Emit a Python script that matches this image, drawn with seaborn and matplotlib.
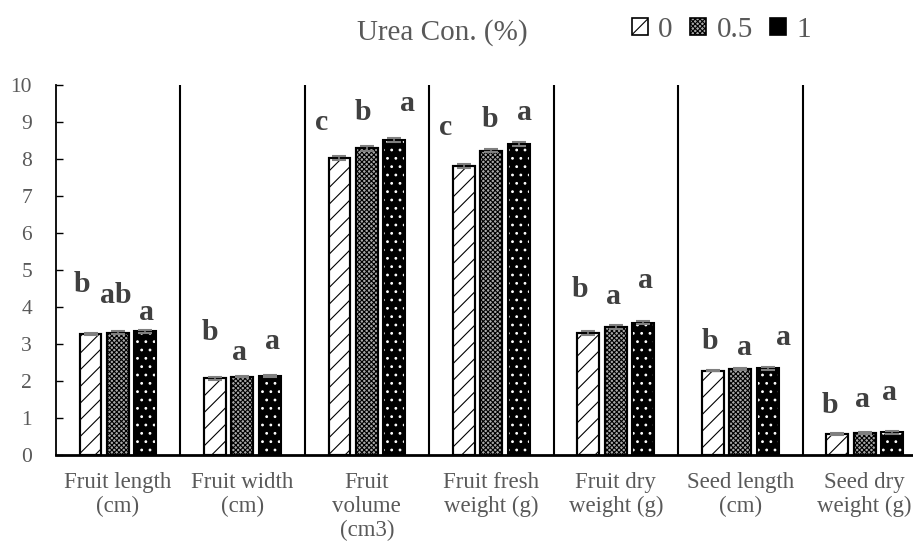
import numpy as np
import pandas as pd
import matplotlib
matplotlib.use("Agg")
import matplotlib.pyplot as plt
import matplotlib.patches as mpatches
import seaborn as sns

# ---------------- data ----------------
traits = ["Fruit length\n(cm)", "Fruit width\n(cm)", "Fruit\nvolume\n(cm3)",
          "Fruit fresh\nweight (g)", "Fruit dry\nweight (g)", "Seed length\n(cm)",
          "Seed dry\nweight (g)"]
concs = ["0", "0.5", "1"]
vals_0 = [3.27, 2.07, 8.02, 7.81, 3.30, 2.28, 0.57]
vals_05 = [3.31, 2.12, 8.29, 8.23, 3.46, 2.32, 0.60]
vals_1 = [3.35, 2.13, 8.52, 8.40, 3.58, 2.34, 0.61]
err_0 = [0.03, 0.03, 0.05, 0.05, 0.05, 0.02, 0.02]
err_05 = [0.03, 0.02, 0.06, 0.04, 0.05, 0.03, 0.02]
err_1 = [0.04, 0.03, 0.06, 0.05, 0.05, 0.03, 0.03]
letters_0 = ["b", "b", "c", "c", "b", "b", "b"]
letters_05 = ["ab", "a", "b", "b", "a", "a", "a"]
letters_1 = ["a", "a", "a", "a", "a", "a", "a"]
yticks = list(range(0, 11))
legend_title = "Urea Con. (%)"

# letter placement (annotation layout)
letter_dx = [[-0.29, -0.016, 0.233], [-0.26, -0.02, 0.245], [-0.36, -0.03, 0.33],
             [-0.37, -0.01, 0.27], [-0.29, -0.02, 0.24], [-0.245, 0.036, 0.35],
             [-0.28, -0.02, 0.20]]
letter_y = [[4.41, 4.11, 3.65], [3.11, 2.57, 2.86], [8.78, 9.05, 9.31],
            [8.65, 8.87, 9.05], [4.28, 4.08, 4.52], [2.86, 2.70, 2.97],
            [1.14, 1.30, 1.49]]

vals = [vals_0, vals_05, vals_1]
errs = [err_0, err_05, err_1]
letters = [letters_0, letters_05, letters_1]

df = pd.DataFrame({
    "trait": np.repeat([traits], 3, axis=0).ravel(),
    "conc": np.repeat(concs, len(traits)),
    "value": np.concatenate(vals),
})

# ---------------- style ----------------
sns.set_style("white")
plt.rcParams["font.family"] = ["Liberation Serif", "DejaVu Serif"]
plt.rcParams["hatch.linewidth"] = 0.8
TXT = "#595959"

fig = plt.figure(figsize=(9.13, 5.48), dpi=100)
ax = fig.add_axes([0.061, 0.1697, 0.9543, 0.675])

sns.barplot(data=df, x="trait", y="value", hue="conc", order=traits,
            hue_order=concs, width=0.66, gap=0.2, errorbar=None,
            legend=False, ax=ax, palette=["white", "white", "black"])

styles = [dict(fc="white", hatch="//", ec="black"),
          dict(fc="#a8a8a8", hatch="xxxxxxx", ec="black"),
          dict(fc="black", hatch="..", ec="white")]

bar_containers = list(ax.containers)
for i, cont in enumerate(bar_containers):
    st = styles[i]
    xs, hs, ws = [], [], []
    for p in cont.patches:
        p.set_facecolor(st["fc"])
        p.set_hatch(st["hatch"])
        p.set_edgecolor(st["ec"])
        p.set_linewidth(0.0 if i == 2 else 1.5)
        xs.append(p.get_x() + p.get_width() / 2)
        hs.append(p.get_height())
        ws.append(p.get_width())
    # black outline
    ax.bar(xs, hs, width=ws, fill=False, edgecolor="black", linewidth=1.5, zorder=3)
    ax.errorbar(xs, vals[i], yerr=errs[i], fmt="none", ecolor="#7f7f7f",
                elinewidth=1.2, capsize=5, capthick=1.5, zorder=4)
    for g in range(len(traits)):
        ax.text(g + letter_dx[g][i], letter_y[g][i], letters[i][g], ha="center",
                va="baseline", fontsize=21.5, fontweight="bold", color="#404040")

# separators
ax.vlines(np.arange(0.5, len(traits) - 0.5, 1.0), 0, 10, color="black", lw=1.5, zorder=1)

ax.set_xlim(-0.5, len(traits) - 0.5)
ax.set_ylim(0, 10)
ax.set_yticks(yticks)
ax.set_xlabel("")
ax.set_ylabel("")
for s in ["top", "right"]:
    ax.spines[s].set_visible(False)
ax.spines["left"].set_color("black")
ax.spines["left"].set_linewidth(1.3)
ax.spines["bottom"].set_color("black")
ax.spines["bottom"].set_linewidth(2.0)
ax.tick_params(axis="y", direction="in", length=5, width=1, color="black",
               labelsize=15.5, labelcolor=TXT, pad=17, left=True)
ax.tick_params(axis="x", length=0, labelsize=16.5, labelcolor=TXT, pad=12)
for lab in ax.get_xticklabels():
    lab.set_linespacing(1.2)

# legend
fig.text(357 / 913, 1 - 40 / 548, legend_title, ha="left", va="baseline",
         fontsize=21, color=TXT)
handles = [mpatches.Patch(facecolor=st["fc"], hatch=st["hatch"],
                          edgecolor="black", linewidth=1.2)
           for st in styles]
leg = fig.legend(handles, concs, loc="center left",
                 bbox_to_anchor=(632 / 913, 1 - 30 / 548), ncol=3, frameon=False,
                 fontsize=21, handlelength=0.55, handleheight=0.55,
                 handletextpad=0.35, columnspacing=0.6, borderpad=0,
                 borderaxespad=0)
for t in leg.get_texts():
    t.set_color(TXT)

fig.savefig("out.png", dpi=100)
